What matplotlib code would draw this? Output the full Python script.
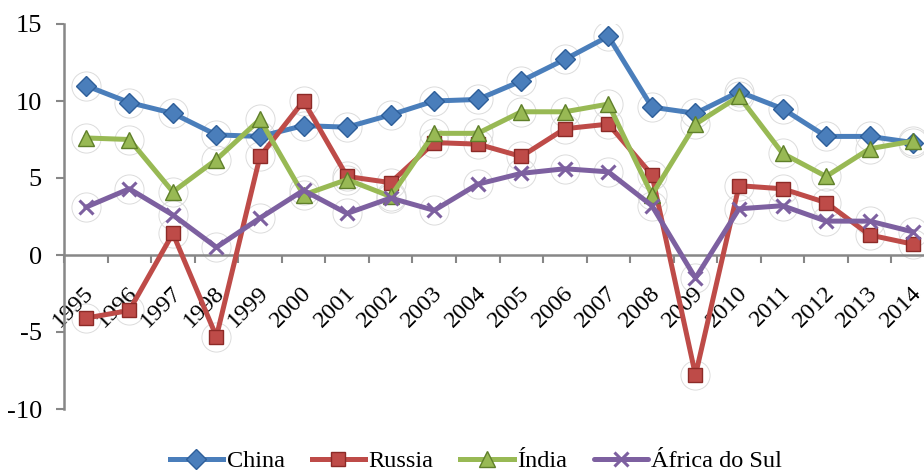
import numpy as np
import matplotlib
matplotlib.use("Agg")
import matplotlib.pyplot as plt
import matplotlib.transforms as mtransforms

# annual GDP growth (%), BRICS economies
years = [str(y) for y in range(1995, 2015)]
china = [11.0, 9.9, 9.2, 7.8, 7.7, 8.4, 8.3, 9.1, 10.0, 10.1,
         11.3, 12.7, 14.2, 9.6, 9.2, 10.6, 9.5, 7.7, 7.7, 7.3]
russia = [-4.1, -3.6, 1.4, -5.3, 6.4, 10.0, 5.1, 4.7, 7.3, 7.2,
          6.4, 8.2, 8.5, 5.2, -7.8, 4.5, 4.3, 3.4, 1.3, 0.7]
india = [7.6, 7.5, 4.1, 6.2, 8.8, 3.9, 4.9, 3.8, 7.9, 7.9,
         9.3, 9.3, 9.8, 3.9, 8.5, 10.3, 6.6, 5.1, 6.9, 7.4]
africa = [3.1, 4.3, 2.6, 0.5, 2.4, 4.2, 2.7, 3.7, 2.9, 4.6,
          5.3, 5.6, 5.4, 3.2, -1.5, 3.0, 3.2, 2.2, 2.2, 1.5]
series_names = ["China", "Russia", "Índia", "África do Sul"]

plt.rcParams['font.family'] = ['Liberation Serif', 'DejaVu Serif']
plt.rcParams['font.size'] = 17.5

fig = plt.figure(figsize=(9.24, 4.71), dpi=100)
ax = fig.add_axes([64 / 924, 62 / 471, 871 / 924, 385 / 471])

x = np.arange(len(years))
styles = [
    (china, "#4A7EBB", "D", 10, "#2E5F9A"),
    (russia, "#BE4B48", "s", 10, "#8C2A27"),
    (india, "#98B954", "^", 12, "#5F7F2A"),
    (africa, "#7D60A0", "x", 10, "#7D60A0"),
]

# faint glow rings behind the markers
for vals, col, mk, ms, ec in styles:
    ax.plot(x, vals, linestyle="none", marker="o", ms=21, mfc="none",
            mec="#dcdcdc", mew=0.7, zorder=1)

for (vals, col, mk, ms, ec), name in zip(styles, series_names):
    if mk == "x":
        ax.plot(x, vals, color=col, lw=3.6, marker=mk, ms=ms, mew=2.2,
                mec=col, label=name, zorder=3, solid_capstyle="round")
    else:
        ax.plot(x, vals, color=col, lw=3.6, marker=mk, ms=ms, mfc=col,
                mec=ec, mew=1.0, label=name, zorder=3)

ax.set_xlim(-0.5, len(years) - 0.5)
ax.set_ylim(-10, 15)
ax.set_yticks([-10, -5, 0, 5, 10, 15])
ax.set_yticklabels(["-10", "-5", "0", "5", "10", "15"], fontsize=19)

for side in ["top", "right"]:
    ax.spines[side].set_visible(False)
ax.spines["bottom"].set_position(("data", 0))
for side in ["bottom", "left"]:
    ax.spines[side].set_color("#878787")
    ax.spines[side].set_linewidth(1.8)

# category boundaries carry the tick marks, labels sit at centres
ax.set_xticks(x)
ax.set_xticklabels(years, rotation=45, ha="right", va="center",
                   rotation_mode="anchor", fontsize=17.5)
ax.set_xticks(np.arange(-0.5, len(years), 1.0), minor=True)
ax.tick_params(axis="x", which="major", length=0, pad=25)
ax.tick_params(axis="x", which="minor", length=6, width=1.5, color="#878787")
ax.tick_params(axis="y", length=6, width=1.5, color="#878787", pad=10)
shift = mtransforms.ScaledTranslation(5 / 100, 0, fig.dpi_scale_trans)
for lab in ax.get_xticklabels():
    lab.set_transform(lab.get_transform() + shift)

ax.legend(loc="center", bbox_to_anchor=(476 / 924, (471 - 461) / 471),
          bbox_transform=fig.transFigure, ncol=4, frameon=False,
          handlelength=2.2, handletextpad=0.15, columnspacing=1.1,
          fontsize=17.5)

fig.savefig("out.png", dpi=100)
